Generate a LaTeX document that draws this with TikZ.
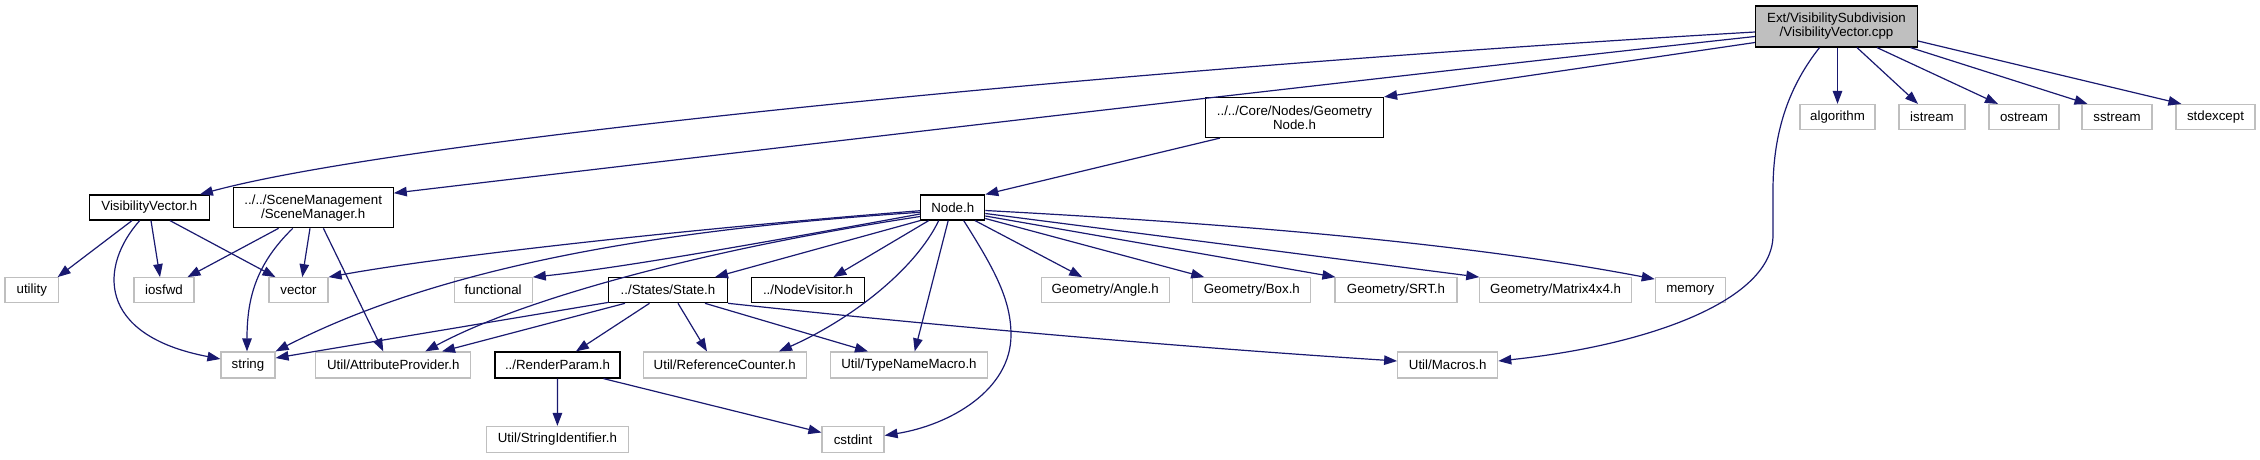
\documentclass[tikz,border=0pt]{standalone}
\usepackage{fontspec}
\setmainfont{Liberation Sans}
\usetikzlibrary{arrows.meta,calc}
\definecolor{edgeblue}{HTML}{191970}
\definecolor{boxgrey}{HTML}{BFBFBF}
\begin{document}
\begin{tikzpicture}[x=1pt,y=-1pt,font=\fontsize{13.3}{14}\selectfont,
  basebox/.style={line width=1.2pt,inner sep=0pt,align=center,minimum height=25pt},
  docbox/.style={basebox,draw=black,fill=white},
  extbox/.style={basebox,draw=boxgrey,fill=white},
  rootbox/.style={basebox,draw=black,fill=boxgrey},
  dep/.style={draw=edgeblue,line width=1.2pt,-{Triangle[length=13pt,width=9.5pt]}}]
\useasboundingbox (0,0) rectangle (2260,459);
% nodes
\node[rootbox,minimum width=162pt,minimum height=41pt] (root) at (1836.5,26.5) {Ext/VisibilitySubdivision\\/VisibilityVector.cpp};
\node[extbox,minimum width=75pt] (algorithm) at (1837.5,117) {algorithm};
\node[extbox,minimum width=66pt] (istream) at (1932,117) {istream};
\node[extbox,minimum width=70pt] (ostream) at (2024,117) {ostream};
\node[extbox,minimum width=70pt] (sstream) at (2117,117) {sstream};
\node[extbox,minimum width=79pt] (stdexcept) at (2215.5,117) {stdexcept};
\node[docbox,minimum width=178pt,minimum height=40pt] (gn) at (1294.5,117.5) {../../Core/Nodes/Geometry\\Node.h};
\node[docbox,minimum width=120pt] (vv) at (149.3,207.5) {VisibilityVector.h};
\node[docbox,minimum width=160pt,minimum height=40pt] (sm) at (313.2,207.7) {../../SceneManagement\\/SceneManager.h};
\node[docbox,minimum width=64pt] (nodeh) at (952.7,207.5) {Node.h};
\node[extbox,minimum width=53.5pt] (utility) at (31.8,290.2) {utility};
\node[extbox,minimum width=60pt] (iosfwd) at (164,290.2) {iosfwd};
\node[extbox,minimum width=59pt] (vector) at (298.5,290.2) {vector};
\node[extbox,minimum width=78pt] (functional) at (493.2,290.2) {functional};
\node[docbox,minimum width=119pt] (state) at (668,290.2) {../States/State.h};
\node[docbox,minimum width=113.6pt] (nv) at (808,290.2) {../NodeVisitor.h};
\node[extbox,minimum width=128pt] (angleh) at (1105.2,290.2) {Geometry/Angle.h};
\node[extbox,minimum width=118pt] (boxh) at (1251.8,290.2) {Geometry/Box.h};
\node[extbox,minimum width=122pt] (srt) at (1396,290.2) {Geometry/SRT.h};
\node[extbox,minimum width=151.5pt] (mat) at (1555.6,290.2) {Geometry/Matrix4x4.h};
\node[extbox,minimum width=70pt] (memory) at (1690.3,290.2) {memory};
\node[extbox,minimum width=54pt,minimum height=26pt] (string) at (248,365) {string};
\node[extbox,minimum width=155pt,minimum height=26pt] (attr) at (393.3,365) {Util/AttributeProvider.h};
\node[docbox,minimum width=125pt,minimum height=26pt] (rp) at (557.5,365) {../RenderParam.h};
\node[extbox,minimum width=163pt,minimum height=26pt] (refc) at (724.7,365) {Util/ReferenceCounter.h};
\node[extbox,minimum width=157pt,minimum height=26pt] (tnm) at (909,365) {Util/TypeNameMacro.h};
\node[extbox,minimum width=100pt,minimum height=26pt] (macros) at (1447.7,365) {Util/Macros.h};
\node[extbox,minimum width=141.5pt,minimum height=26pt] (sid) at (557.4,439.5) {Util/StringIdentifier.h};
\node[extbox,minimum width=62pt,minimum height=26pt] (cstdint) at (853,439.5) {cstdint};
% root edges
\draw[dep] ($(root.west)+(0,5.5)$) .. controls (1100,70) and (400,140) .. ($(vv.north east)+(-10,0)$);
\draw[dep] ($(root.west)+(0,10)$) .. controls (1400,75) and (800,145) .. ($(sm.north east)+(0,6)$);
\draw[dep] ($(root.west)+(0,16)$) -- (gn.north east);
\draw[dep] ($(root.south)+(-17,0)$) .. controls (1790,85) and (1773,130) .. (1773,190) -- (1773,235) .. controls (1773,300) and (1650,345) .. ($(macros.east)+(0,-4)$);
\draw[dep] (algorithm.north |- root.south) -- (algorithm.north);
\draw[dep] ($(root.south)+(20.5,0)$) -- ($(istream.north)+(-14,0)$);
\draw[dep] ($(root.south)+(40.5,0)$) -- ($(ostream.north)+(-26,0)$);
\draw[dep] ($(root.south)+(74,0)$) -- ($(sstream.north)+(-29.5,0)$);
\draw[dep] ($(root.east)+(0,14.5)$) -- ($(stdexcept.north west)+(6,0)$);
% VisibilityVector.h
\draw[dep] ($(vv.south)+(-17.3,0)$) -- ($(utility.north east)+(-1.5,0)$);
\draw[dep] ($(vv.south)+(1.7,0)$) -- ($(iosfwd.north)+(-4,0)$);
\draw[dep] ($(vv.south)+(20.7,0)$) -- ($(vector.north)+(-23,0)$);
\draw[dep] ($(vv.south)+(-9.6,0)$) .. controls (100,265) and (95,335) .. ($(string.west)+(0,-6)$);
% SceneManager.h
\draw[dep] ($(sm.south)+(-34.6,0)$) -- ($(iosfwd.north)+(23.5,0)$);
\draw[dep] ($(sm.south)+(-3.2,0)$) -- ($(vector.north)+(3.8,0)$);
\draw[dep] ($(sm.south)+(-20.4,0)$) .. controls (255,265) and (247,300) .. ($(string.north)+(-1,0)$);
\draw[dep] ($(sm.south)+(10.2,0)$) -- ($(attr.north)+(-10,0)$);
% GeometryNode.h
\draw[dep] ($(gn.south west)+(15,0)$) -- (nodeh.north east);
% Node.h
\draw[dep] ($(nodeh.west)+(0,3.2)$) .. controls (700,228) and (450,255) .. (vector.north east);
\draw[dep] ($(nodeh.west)+(0,4.8)$) .. controls (680,228) and (450,262) .. (string.north east);
\draw[dep] ($(nodeh.west)+(0,6.5)$) .. controls (750,245) and (620,268) .. (functional.north east);
\draw[dep] ($(nodeh.west)+(0,9)$) .. controls (700,250) and (520,300) .. ($(attr.north)+(32,0)$);
\draw[dep] (nodeh.south west) -- ($(state.north)+(47,0)$);
\draw[dep] ($(nodeh.south)+(-24,0)$) -- ($(nv.north)+(25.4,0)$);
\draw[dep] ($(nodeh.south)+(-14,0)$) .. controls (915,270) and (850,320) .. ($(refc.north)+(54.3,0)$);
\draw[dep] ($(nodeh.south)+(-4.5,0)$) -- ($(tnm.north)+(5.7,0)$);
\draw[dep] ($(nodeh.south)+(11,0)$) .. controls (995,270) and (1011,300) .. (1011,335) .. controls (1011,390) and (950,425) .. ($(cstdint.east)+(0,-4)$);
\draw[dep] ($(nodeh.south)+(22.3,0)$) -- ($(angleh.north)+(-23,0)$);
\draw[dep] ($(nodeh.east)+(0,11)$) -- ($(boxh.north west)+(12,0)$);
\draw[dep] ($(nodeh.east)+(0,8.5)$) -- ($(srt.north west)+(1,0)$);
\draw[dep] ($(nodeh.east)+(0,6)$) -- (mat.north west);
\draw[dep] ($(nodeh.east)+(0,3)$) .. controls (1200,222) and (1450,240) .. ($(memory.north west)+(0,2)$);
% State.h
\draw[dep] ($(state.south west)+(1,-1)$) -- ($(string.east)+(0,-7)$);
\draw[dep] ($(state.south)+(-43,0)$) -- ($(attr.north)+(48.7,0)$);
\draw[dep] ($(state.south)+(-18.5,0)$) -- ($(rp.north)+(18.4,0)$);
\draw[dep] ($(state.south)+(10,0)$) -- ($(refc.north)+(-17.7,0)$);
\draw[dep] ($(state.south)+(37,0)$) -- ($(tnm.north)+(-41,0)$);
\draw[dep] (state.south east) .. controls (900,322) and (1150,345) .. ($(macros.west)+(0,-4)$);
% RenderParam.h
\draw[dep] (rp.south) -- (sid.north);
\draw[dep] ($(rp.south)+(46,0)$) -- ($(cstdint.west)+(0,-7)$);
\end{tikzpicture}
\end{document}
